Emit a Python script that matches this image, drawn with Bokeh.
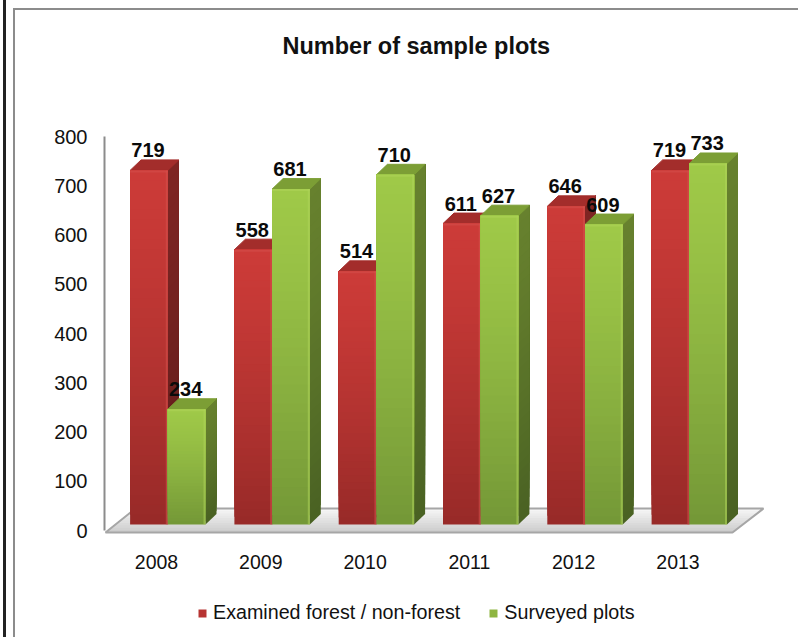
from bokeh.plotting import figure
from bokeh.models import (ColumnDataSource, FixedTicker, Legend, LegendItem, Range1d, InlineStyleSheet)
from bokeh.core.properties import value
from bokeh.embed import file_html
from bokeh.resources import INLINE
import numpy as np

years = [2008, 2009, 2010, 2011, 2012, 2013]
examined = [719, 558, 514, 611, 646, 719]
surveyed = [234, 681, 710, 627, 609, 733]
y_ticks = [0, 100, 200, 300, 400, 500, 600, 700, 800]
title_text = "Number of sample plots"
series_names = ["Examined forest / non-forest", "Surveyed plots"]

W, H = 798, 637
LEFT, AXIS_PX, TOP = 104, 537, 64
Y0_PX = 530.0
PX_PER_UNIT = 0.4925
CAT_PX = 104.3
X0_PX = 156.0
FONT = "Liberation Sans"

def dx(px):
    return px / CAT_PX

def dy(px):
    return px / PX_PER_UNIT

def xd(px):
    return 2008 + (px - X0_PX) / CAT_PX

def yd(py):
    return (Y0_PX - py) / PX_PER_UNIT

frame_css = InlineStyleSheet(css="""
:host::before{content:'';position:absolute;left:13px;top:8px;right:0;bottom:0;
  border-left:2.5px solid #8c8c8c;border-top:2.5px solid #8c8c8c;pointer-events:none;z-index:5}
:host::after{content:'';position:absolute;left:3px;top:0;bottom:0;width:3px;
  background:#222222;pointer-events:none;z-index:5}
""")

p = figure(width=W, height=H, output_backend="svg", toolbar_location=None,
           x_range=Range1d(xd(LEFT), xd(W)), y_range=Range1d(yd(H), yd(TOP)),
           frame_width=W - LEFT, frame_height=H - TOP,
           min_border_left=LEFT, min_border_right=0, min_border_top=TOP,
           min_border_bottom=0, margin=(0, 0, 0, 0),
           background_fill_color="white", border_fill_color="white",
           outline_line_color=None, title=title_text, stylesheets=[frame_css])
p.title.text_font = FONT
p.title.text_font_size = "23.5px"
p.title.text_font_style = "bold"
p.title.text_color = "#111111"
p.title.align = "left"
p.title.offset = 178
p.title.standoff = 12
p.grid.visible = False

ya = p.yaxis[0]
ya.ticker = FixedTicker(ticks=y_ticks)
ya.bounds = (0, 800)
ya.axis_line_color = "#8c8c8c"
ya.axis_line_width = 2
ya.major_tick_line_color = None
ya.minor_tick_line_color = None
ya.major_label_standoff = 11
ya.major_label_text_font = FONT
ya.major_label_text_font_size = "20px"
ya.major_label_text_color = "#111111"

xa = p.xaxis[0]
xa.ticker = FixedTicker(ticks=years)
xa.fixed_location = yd(AXIS_PX)
xa.axis_line_color = None
xa.major_tick_line_color = None
xa.minor_tick_line_color = None
xa.major_label_standoff = 11
xa.major_label_text_font = FONT
xa.major_label_text_font_size = "19.5px"
xa.major_label_text_color = "#111111"

# floor of the 3-D plot
F_FRONT_L, F_FRONT_R, F_BACK_L, F_BACK_R = 105, 732, 135, 763
F_FRONT_Y, F_BACK_Y = 532, 508
N_FLOOR = 10
fracs = np.linspace(1, 0, N_FLOOR, endpoint=False)
fxs, fys, fcol = [], [], []
for f in fracs:
    yb = F_FRONT_Y + (F_BACK_Y - F_FRONT_Y) * (1 - f)
    xl = F_FRONT_L + (F_BACK_L - F_FRONT_L) * (1 - f)
    xr = F_FRONT_R + (F_BACK_R - F_FRONT_R) * (1 - f)
    fxs.append([xd(xl), xd(xr), xd(F_BACK_R), xd(F_BACK_L)])
    fys.append([yd(yb), yd(yb), yd(F_BACK_Y), yd(F_BACK_Y)])
    g = int(205 + 45 * (1 - f))
    fcol.append(f"#{g:02x}{g:02x}{g:02x}")
p.patches(fxs, fys, fill_color=fcol, line_color=None)
p.patch([xd(F_FRONT_L), xd(F_FRONT_R), xd(F_BACK_R), xd(F_BACK_L)],
        [yd(F_FRONT_Y), yd(F_FRONT_Y), yd(F_BACK_Y), yd(F_BACK_Y)],
        fill_color=None, line_color="#a6a6a6", line_width=2)

BAR_W = dx(37.7)
OFF_X = dx(11.3)
OFF_Y = dy(6.0)
DEPTH_X = dx(11.0)
DEPTH_Y = dy(10.5)
N = 36

def hexlerp(a, b, t):
    ca = np.array([int(a[i:i + 2], 16) for i in (1, 3, 5)], float)
    cb = np.array([int(b[i:i + 2], 16) for i in (1, 3, 5)], float)
    c = ca + (cb - ca) * t
    return "#" + "".join(f"{int(round(v)):02x}" for v in c)

def draw_bars(vals, x_lo, front, side, topc, edge):
    fl, fr, fb, ft, fc = [], [], [], [], []
    sx, sy, sc = [], [], []
    tx, ty = [], []
    ex0, ex1, ey0, ey1 = [], [], [], []
    for yr, v in zip(years, vals):
        l = yr + x_lo
        r = l + BAR_W
        base = OFF_Y
        top = v + OFF_Y
        for i in range(N):
            t = i / N                      # 0 at bottom, paint upward
            b_i = base + (top - base) * t
            col_t = min(1, (1 - t) ** 1.3)
            fl.append(l); fr.append(r); fb.append(b_i); ft.append(top)
            fc.append(hexlerp(front[0], front[1], col_t))
            sx.append([r, r + DEPTH_X, r + DEPTH_X, r])
            sy.append([b_i, b_i + DEPTH_Y, top + DEPTH_Y, top])
            sc.append(hexlerp(side[0], side[1], col_t))
        tx.append([l, r, r + DEPTH_X, l + DEPTH_X])
        ty.append([top, top, top + DEPTH_Y, top + DEPTH_Y])
    p.patches(sx, sy, fill_color=sc, line_color=None)
    p.patches(tx, ty, fill_color=topc, line_color=topc, line_width=1, line_join="round")
    r_front = p.quad(left=fl, right=fr, bottom=fb, top=ft, fill_color=fc, line_color=None)
    for yr, v in zip(years, vals):
        l = yr + x_lo
        r = l + BAR_W
        ex0 += [l, r - dx(1)]
        ex1 += [r, r - dx(1)]
        ey0 += [v + OFF_Y - dy(1), v + OFF_Y]
        ey1 += [v + OFF_Y - dy(1), OFF_Y]
    p.segment(ex0, ey0, ex1, ey1, line_color=edge, line_width=2, line_alpha=0.55)
    return r_front

red_front = draw_bars(examined, OFF_X - BAR_W, ("#cc3b38", "#982a28"), ("#7e2523", "#5e1b1a"), "#a32d2b", "#d5504c")
green_front = draw_bars(surveyed, OFF_X, ("#9fc948", "#749837"), ("#67812e", "#4a6223"), "#7c9e35", "#aed35a")

# data labels
lab_font = value(FONT)
for vals, x_off in [(examined, OFF_X - BAR_W / 2 - dx(1)), (surveyed, OFF_X + BAR_W / 2 - dx(1))]:
    src = ColumnDataSource(dict(x=[y + x_off for y in years], y=[v + OFF_Y for v in vals], t=[str(v) for v in vals]))
    p.text("x", "y", text="t", source=src, text_font=lab_font, text_font_size="20px", text_font_style="bold",
           text_color="#0a0a0a", text_align="center", text_baseline="middle", y_offset=-20)

# legend: swatches take the mid-gradient colour of each series' front faces
legend = Legend(items=[LegendItem(label=series_names[0], renderers=[red_front], index=N // 2),
                       LegendItem(label=series_names[1], renderers=[green_front], index=N // 2)],
                orientation="horizontal", location=(93, 13), border_line_color=None,
                background_fill_alpha=0, padding=0, margin=0, spacing=28,
                glyph_width=10, glyph_height=10, label_standoff=6,
                label_text_font=FONT, label_text_font_size="19.7px", label_text_color="#111111")
p.add_layout(legend, "center")

open("out.html", "w").write(file_html(p, INLINE))
